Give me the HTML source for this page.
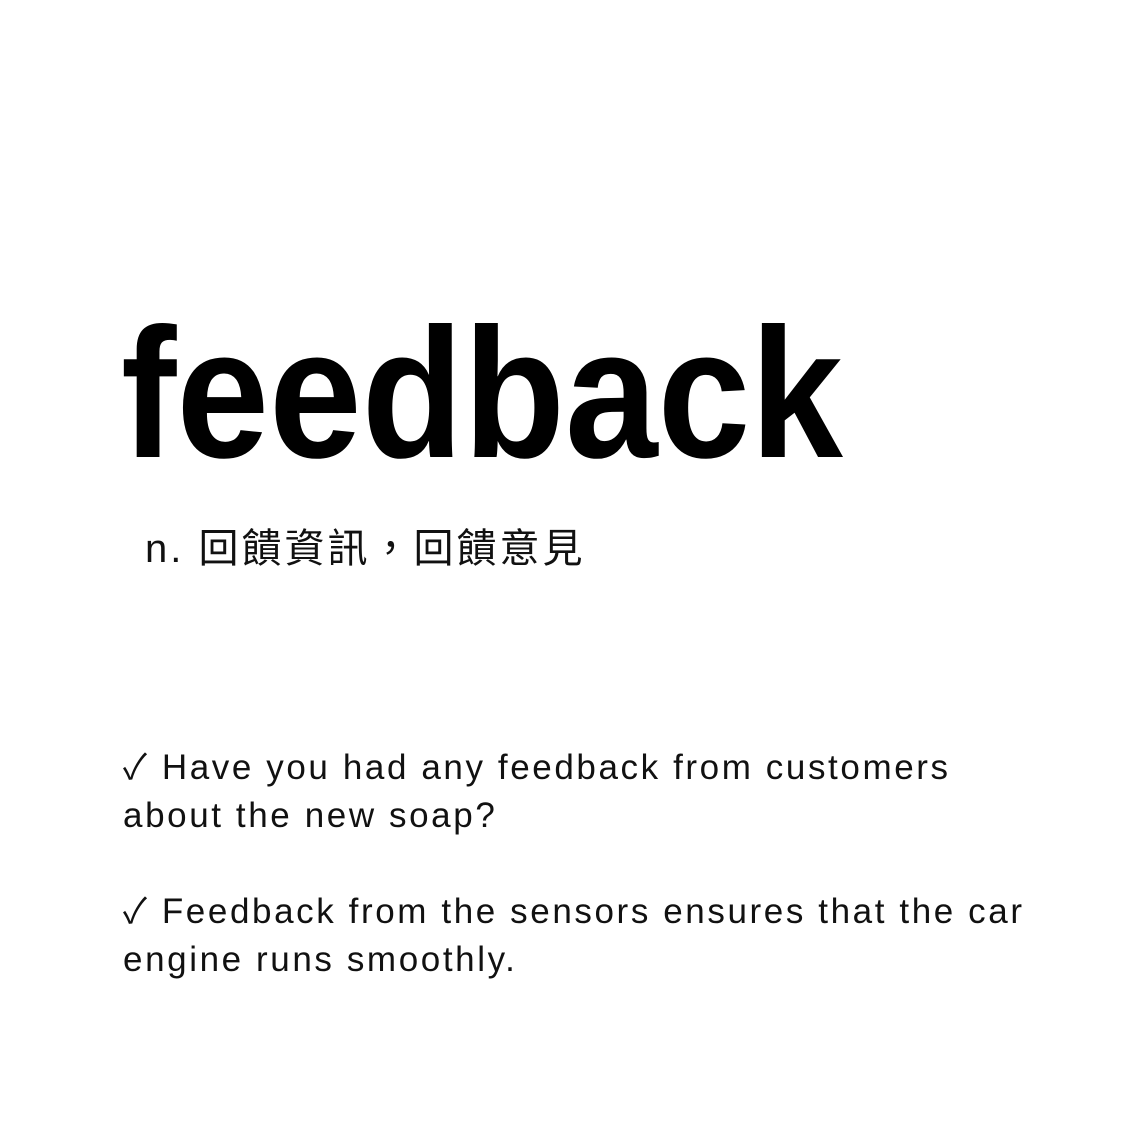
<!DOCTYPE html>
<html><head><meta charset="utf-8"><style>
html,body{margin:0;padding:0;background:#fff;}
body{width:1134px;height:1134px;position:relative;overflow:hidden;font-family:"Liberation Sans","Noto Sans CJK TC",sans-serif;color:#000;}
.w{position:absolute;left:121px;top:302px;font-size:185px;font-weight:bold;letter-spacing:0;line-height:1;white-space:nowrap;transform:scaleX(0.9);transform-origin:0 0;}
.d{position:absolute;left:145px;top:529px;font-size:40px;letter-spacing:3px;line-height:1;white-space:nowrap;color:#111;}
.s{position:absolute;left:123px;font-size:35px;letter-spacing:2.6px;line-height:48px;white-space:nowrap;color:#111;}
</style></head><body>
<div class="w">feedback</div>
<div class="d">n. 回饋資訊，回饋意見</div>
<div class="s" style="top:744px">✓ Have you had any feedback from customers<br>about the new soap?</div>
<div class="s" style="top:888px">✓ Feedback from the sensors ensures that the car<br>engine runs smoothly.</div>
</body></html>
